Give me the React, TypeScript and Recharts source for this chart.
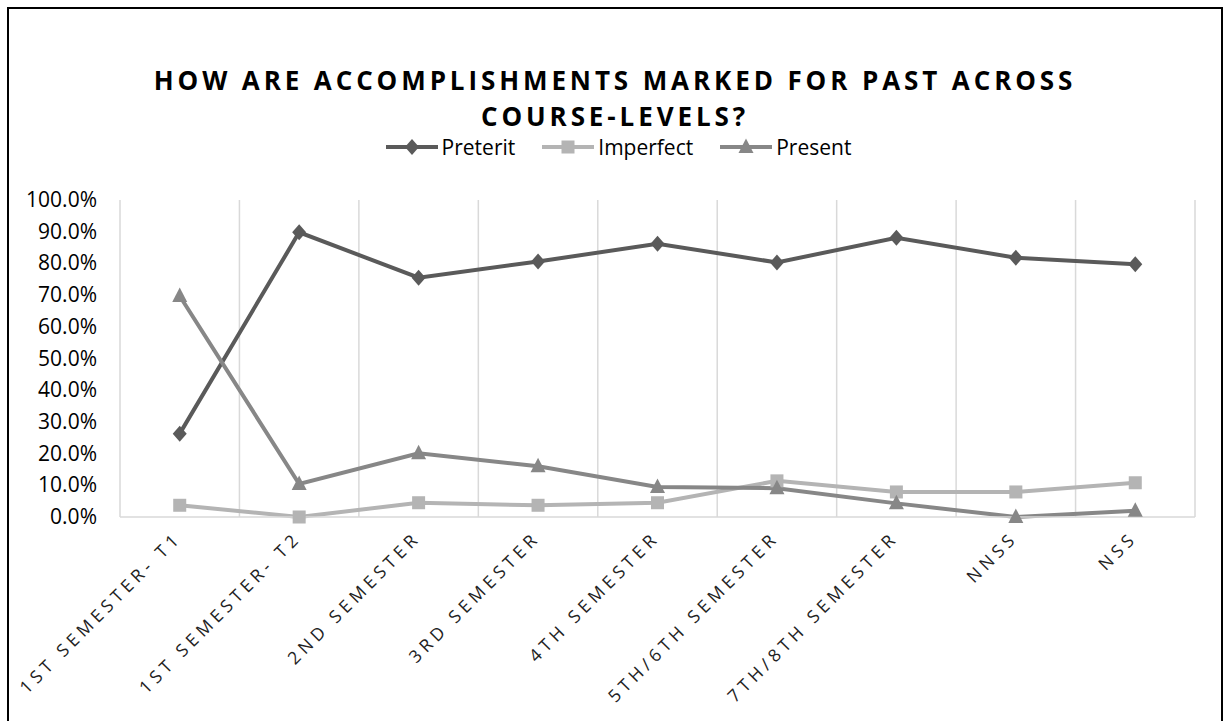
import React from "react";
import { LineChart, Line, XAxis, YAxis, CartesianGrid } from "recharts";

const categories = [
  "1ST SEMESTER- T1",
  "1ST SEMESTER- T2",
  "2ND SEMESTER",
  "3RD SEMESTER",
  "4TH SEMESTER",
  "5TH/6TH SEMESTER",
  "7TH/8TH SEMESTER",
  "NNSS",
  "NSS",
];
const preterit = [26.3, 89.8, 75.5, 80.6, 86.2, 80.3, 88.1, 81.8, 79.7];
const imperfect = [3.7, 0, 4.5, 3.7, 4.5, 11.4, 7.9, 7.9, 10.8];
const present = [69.7, 10.4, 20.1, 16.0, 9.5, 9.1, 4.3, 0, 2.0];
const yTicks = [0, 10, 20, 30, 40, 50, 60, 70, 80, 90, 100];
const seriesNames = ["Preterit", "Imperfect", "Present"];
const seriesColors = ["#5a5a5a", "#b4b4b4", "#878787"];
const titleLines = ["HOW ARE ACCOMPLISHMENTS MARKED FOR PAST ACROSS", "COURSE-LEVELS?"];

const data = categories.map((c, i) => ({
  category: c,
  Preterit: preterit[i],
  Imperfect: imperfect[i],
  Present: present[i],
}));

const FONT = "'Open Sans', 'DejaVu Sans', sans-serif";

function Marker({ kind, cx, cy, fill }: { kind: number; cx: number; cy: number; fill: string }) {
  if (kind === 0) {
    return <path d={`M${cx},${cy - 8} L${cx + 7},${cy} L${cx},${cy + 8} L${cx - 7},${cy} Z`} fill={fill} />;
  }
  if (kind === 1) {
    return <rect x={cx - 6.5} y={cy - 6.5} width={13} height={13} fill={fill} />;
  }
  return <path d={`M${cx},${cy - 8.5} L${cx + 7.5},${cy + 6} L${cx - 7.5},${cy + 6} Z`} fill={fill} />;
}

const makeDot = (kind: number) => (props: any) => {
  const { cx, cy, index } = props;
  if (cx == null || cy == null) return <g key={`d${kind}-${index}`} />;
  return (
    <g key={`d${kind}-${index}`}>
      <Marker kind={kind} cx={cx} cy={cy} fill={seriesColors[kind]} />
    </g>
  );
};

const XTick = (props: any) => {
  const { x, y, payload } = props;
  return (
    <text
      transform={`translate(${x + 3},${y + 14}) rotate(-45)`}
      textAnchor="end"
      fontSize={17.5}
      letterSpacing={4.5}
      fill="#222"
      fontFamily={FONT}
    >
      {payload.value}
    </text>
  );
};

const YTick = (props: any) => {
  const { x, y, payload } = props;
  return (
    <text x={x} y={y} dy={7} textAnchor="end" fontSize={21} fill="#000" fontFamily={FONT}>
      {Number(payload.value).toFixed(1) + "%"}
    </text>
  );
};

export default function App() {
  return (
    <div style={{ position: "absolute", left: 0, top: 0, width: 1228, height: 721, background: "#fff", overflow: "hidden", fontFamily: FONT }}>
      <div
        style={{
          position: "absolute",
          left: 7,
          top: 7,
          width: 1216,
          height: 740,
          border: "2px solid #000",
          boxSizing: "border-box",
        }}
      />
      <div
        style={{
          position: "absolute",
          left: 7,
          top: 62,
          width: 1216,
          textAlign: "center",
          fontSize: 26,
          fontWeight: 700,
          letterSpacing: 3.9,
          lineHeight: "36px",
          color: "#000",
        }}
      >
        {titleLines.map((t, i) => (
          <div key={i}>{t}</div>
        ))}
      </div>
      <div
        style={{
          position: "absolute",
          left: 10,
          top: 133,
          width: 1216,
          display: "flex",
          justifyContent: "center",
          gap: 26,
          fontSize: 21,
          color: "#000",
          lineHeight: "28px",
        }}
      >
        {seriesNames.map((n, i) => (
          <div key={n} style={{ display: "flex", alignItems: "center" }}>
            <svg width={54} height={28} style={{ display: "block" }}>
              <line x1={1} y1={14} x2={53} y2={14} stroke={seriesColors[i]} strokeWidth={4} />
              <Marker kind={i} cx={27} cy={14} fill={seriesColors[i]} />
            </svg>
            <span style={{ marginLeft: 3 }}>{n}</span>
          </div>
        ))}
      </div>
      <div style={{ position: "absolute", left: 0, top: 0 }}>
        <LineChart
          width={1228}
          height={721}
          data={data}
          margin={{ top: 200, right: 33, bottom: 0, left: 0 }}
          style={{ fontFamily: FONT }}
        >
          <CartesianGrid
            horizontal={false}
            vertical={true}
            stroke="#d9d9d9"
            strokeWidth={1.5}
            verticalCoordinatesGenerator={({ offset }: any) =>
              Array.from({ length: categories.length + 1 }, (_, i) => offset.left + (i * offset.width) / categories.length)
            }
          />
          <XAxis
            dataKey="category"
            scale="band"
            interval={0}
            height={204}
            tickLine={false}
            axisLine={{ stroke: "#d9d9d9", strokeWidth: 1.5 }}
            tick={<XTick />}
          />
          <YAxis
            domain={[0, 100]}
            ticks={yTicks}
            width={120}
            axisLine={false}
            tickLine={false}
            tickSize={0}
            tickMargin={23}
            tick={<YTick />}
            interval={0}
          />
          {seriesNames.map((n, i) => (
            <Line
              key={n}
              type="linear"
              dataKey={n}
              stroke={seriesColors[i]}
              strokeWidth={4}
              dot={makeDot(i)}
              activeDot={false}
              isAnimationActive={false}
            />
          ))}
        </LineChart>
      </div>
    </div>
  );
}
